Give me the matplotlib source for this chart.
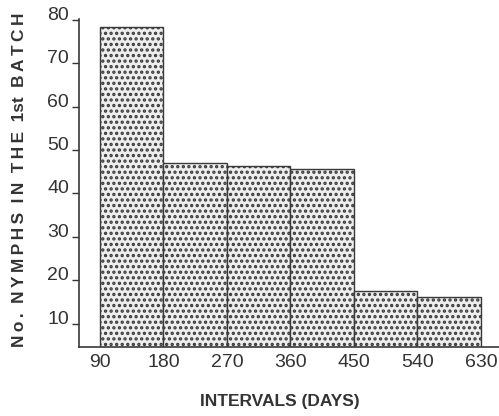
import matplotlib.pyplot as plt
import matplotlib as mpl

# intervals in days (bin edges) and number of nymphs per interval
edges = [90, 180, 270, 360, 450, 540, 630]
nymphs = [78.4, 47.0, 46.4, 45.6, 17.5, 16.1]
yticks = [10, 20, 30, 40, 50, 60, 70, 80]

mpl.rcParams['hatch.color'] = '#555555'
mpl.rcParams['hatch.linewidth'] = 1.6
plt.rcParams['font.family'] = ['Liberation Sans', 'DejaVu Sans']

fig = plt.figure(figsize=(4.99, 4.16), dpi=100)
ax = fig.add_axes([0.158, 0.166, 0.842, 0.788])

ax.bar(edges[:-1], nymphs, width=90, align='edge', facecolor='#eeeeee',
       edgecolor='#3a3a3a', linewidth=1.0, hatch='...')

ax.set_xlim(60.2, 655.5)
ax.set_ylim(4.7, 80.1)
ax.set_xticks(edges)
ax.set_yticks(yticks)
ax.tick_params(axis='x', length=0, pad=5, labelsize=14, colors='#333333')
ax.tick_params(axis='y', length=5, width=1, pad=2, labelsize=14, colors='#333333')
for lab in ax.get_yticklabels():
    lab.set_va('baseline')

for s in ['top', 'right']:
    ax.spines[s].set_visible(False)
for s in ['left', 'bottom']:
    ax.spines[s].set_color('#3a3a3a')
    ax.spines[s].set_linewidth(1.2)


def spaced(words):
    return '  '.join('\u2009'.join(w) for w in words)


ylab = fig.text(0.04, 0.567, spaced(['No.', 'NYMPHS', 'IN', 'THE']) + '  1st  ' + spaced(['BATCH']),
                rotation=90, ha='center', va='center', fontsize=13,
                fontweight='bold', color='#333333')
fig.text(0.561, 0.034, 'INTERVALS (DAYS)', ha='center',
         va='center', fontsize=12.5, fontweight='bold', color='#333333')

# fit the rotated label to the length it takes in the original
r = fig.canvas.get_renderer()
ylab.set_fontsize(13 * 334 / ylab.get_window_extent(r).height)

fig.savefig('out.png', dpi=100)
